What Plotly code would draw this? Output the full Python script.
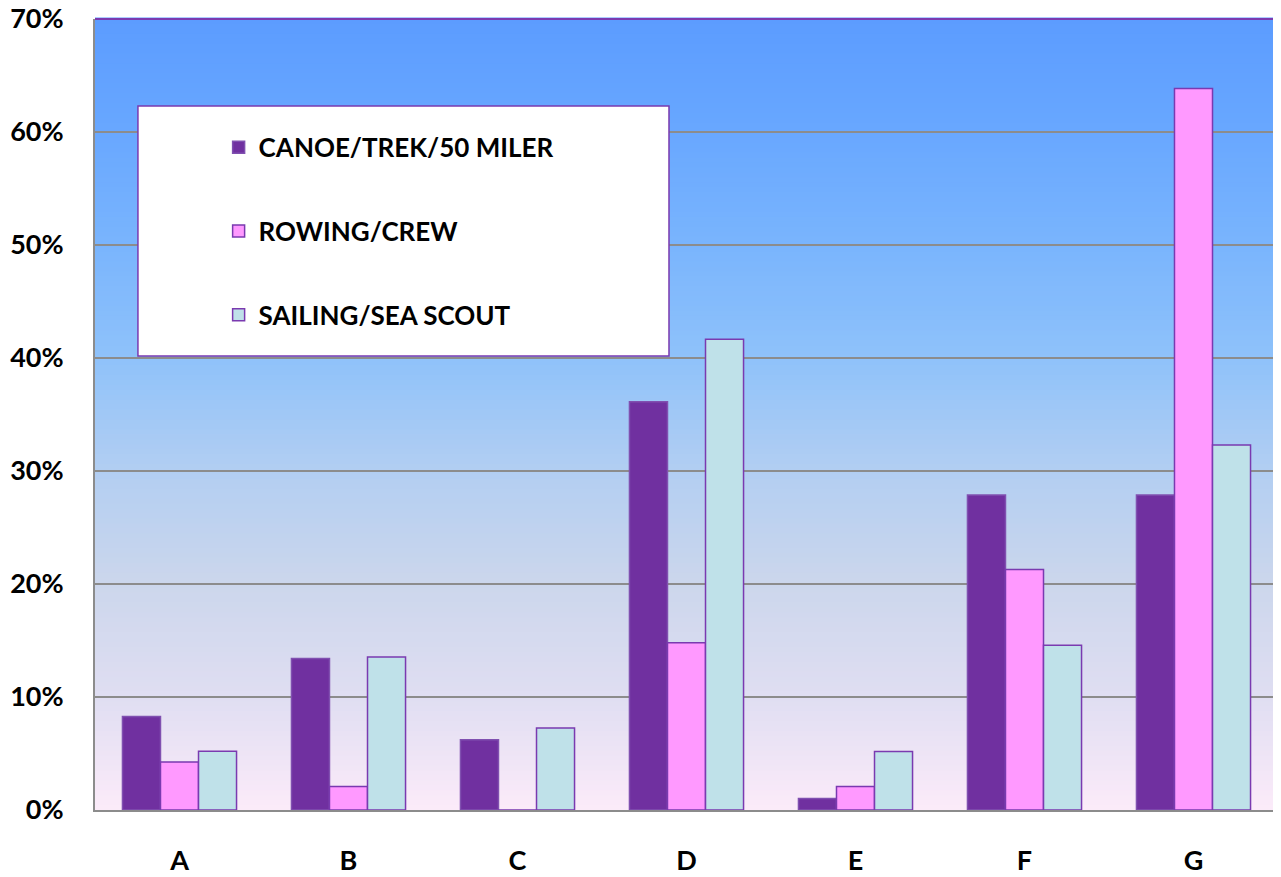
import plotly.graph_objects as go

categories = ["A", "B", "C", "D", "E", "F", "G"]
canoe = [0.0828, 0.1340, 0.0622, 0.3613, 0.0102, 0.2787, 0.2787]
rowing = [0.0424, 0.0208, 0.0, 0.1481, 0.0208, 0.2128, 0.6384]
sailing = [0.0521, 0.1354, 0.0725, 0.4166, 0.0518, 0.1458, 0.3230]
series_names = ["CANOE/TREK/50 MILER", "ROWING/CREW", "SAILING/SEA SCOUT"]
series_colors = ["#7030A0", "#FF99FF", "#BFE1E9"]
series_lines = ["#8050B0", "#7A3AB0", "#7A3AB0"]

# background gradient stops (fraction from bottom, rgb)
grad_stops = [
    (0.00, (252, 235, 249)),
    (0.14, (224, 222, 242)),
    (0.29, (203, 214, 236)),
    (0.43, (178, 206, 242)),
    (0.57, (143, 194, 250)),
    (0.71, (122, 181, 253)),
    (0.86, (104, 167, 255)),
    (1.00, (92, 156, 255)),
]

def interp(f):
    for (f0, c0), (f1, c1) in zip(grad_stops[:-1], grad_stops[1:]):
        if f0 <= f <= f1:
            t = (f - f0) / (f1 - f0) if f1 > f0 else 0
            return tuple(round(a + (b - a) * t) for a, b in zip(c0, c1))
    return grad_stops[-1][1]

fig = go.Figure()
for name, vals, col, lc in zip(series_names, [canoe, rowing, sailing], series_colors, series_lines):
    fig.add_trace(go.Bar(
        x=categories, y=vals, name=name, legendgroup=name,
        marker=dict(color=col, line=dict(color=lc, width=1.5)),
    ))

shapes = []
n = 160
for i in range(n):
    f0 = i / n
    f1 = (i + 1) / n
    r, g, b = interp((f0 + f1) / 2)
    shapes.append(dict(type="rect", xref="x domain", yref="y domain",
                       x0=0, x1=1, y0=f0, y1=f1 + 0.002, layer="below",
                       line=dict(width=0), fillcolor=f"rgb({r},{g},{b})"))
# top and right purple border
shapes.append(dict(type="line", xref="x domain", yref="y domain", x0=0, x1=1, y0=1, y1=1,
                   line=dict(color="#7A3AB0", width=2), layer="above"))
shapes.append(dict(type="line", xref="x domain", yref="y domain", x0=1, x1=1, y0=0, y1=1,
                   line=dict(color="#7A3AB0", width=2), layer="above"))
# legend box
shapes.append(dict(type="rect", xref="paper", yref="paper", x0=0.0363, x1=0.4852, y0=0.574, y1=0.890,
                   fillcolor="white", line=dict(color="#7A3AB0", width=1.5), layer="above"))

font_family = "Lato, 'Open Sans', sans-serif"

fig.update_layout(
    width=1273, height=869,
    margin=dict(l=87, r=3, t=11, b=67, autoexpand=False),
    paper_bgcolor="white",
    plot_bgcolor="rgba(0,0,0,0)",
    barmode="group", bargap=0.325, bargroupgap=0,
    shapes=shapes,
    showlegend=True,
    legend=dict(x=0.1045, y=0.8675, xanchor="left", yanchor="top",
                bgcolor="rgba(0,0,0,0)", borderwidth=0,
                font=dict(family=font_family, size=26, color="black", weight="bold"),
                traceorder="grouped", tracegroupgap=47),
    font=dict(family=font_family, color="black"),
)
fig.update_yaxes(range=[0, 0.7], dtick=0.1, tickformat=".0%",
                 showgrid=True, gridcolor="#8C8C8C", gridwidth=1.5,
                 showline=True, linecolor="#8C8C8C", linewidth=2,
                 zeroline=False, ticks="", ticklabelstandoff=24,
                 automargin=False, ticklabeloverflow="allow",
                 tickfont=dict(family=font_family, size=27, color="black", weight="bold"))
fig.update_xaxes(showgrid=False, showline=True, linecolor="#8C8C8C", linewidth=2,
                 ticks="", ticklabelstandoff=26, automargin=False,
                 tickfont=dict(family=font_family, size=27, color="black", weight="bold"))

fig.write_html("out.html")
